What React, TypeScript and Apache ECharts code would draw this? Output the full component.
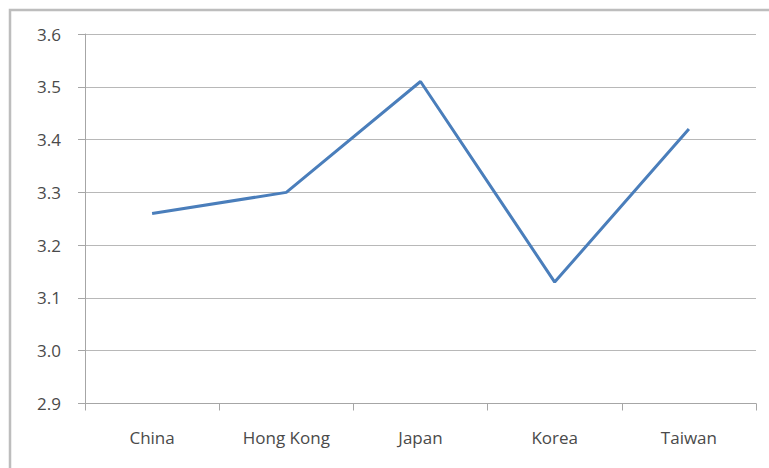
import React, { useEffect, useRef } from "react";
import * as echarts from "echarts";

const categories = ["China", "Hong Kong", "Japan", "Korea", "Taiwan"];
const values = [3.26, 3.3, 3.51, 3.13, 3.42];
const yMin = 2.9;
const yMax = 3.6;
const yInterval = 0.1;

export default function App() {
  const ref = useRef<HTMLDivElement>(null);
  useEffect(() => {
    if (!ref.current) return;
    const chart = echarts.init(ref.current, null, { renderer: "svg" });
    const font = "'Open Sans', sans-serif";
    chart.setOption({
      animation: false,
      backgroundColor: "#ffffff",
      graphic: [
        {
          type: "rect",
          shape: { x: 10, y: 10, width: 780, height: 480 },
          style: { fill: "none", stroke: "#bdbdbd", lineWidth: 2.5 },
          silent: true,
        },
      ],
      grid: { left: 85, right: 13, top: 34, bottom: 64.5 },
      xAxis: {
        type: "category",
        data: categories,
        boundaryGap: true,
        axisLine: { lineStyle: { color: "#a6a6a6", width: 1 } },
        axisTick: { show: true, length: 7, inside: false, lineStyle: { color: "#a6a6a6" } },
        axisLabel: { margin: 25, color: "#4a4a4a", fontSize: 17, fontFamily: font },
        splitLine: { show: false },
      },
      yAxis: {
        type: "value",
        min: yMin,
        max: yMax,
        interval: yInterval,
        axisLine: { show: true, lineStyle: { color: "#a6a6a6", width: 1 } },
        axisTick: { show: true, length: 7, lineStyle: { color: "#a6a6a6" } },
        axisLabel: {
          margin: 24,
          color: "#4a4a4a",
          fontSize: 17,
          fontFamily: font,
          formatter: (v: number) => v.toFixed(1),
        },
        splitLine: { show: true, lineStyle: { color: "#b8b8b8", width: 1 } },
      },
      series: [
        {
          type: "line",
          data: values,
          symbol: "none",
          lineStyle: { color: "#4a7ebb", width: 3 },
        },
      ],
    });
    return () => chart.dispose();
  }, []);
  return (
    <div
      ref={ref}
      style={{ position: "fixed", left: 0, top: 0, width: 769, height: 468 }}
    />
  );
}
